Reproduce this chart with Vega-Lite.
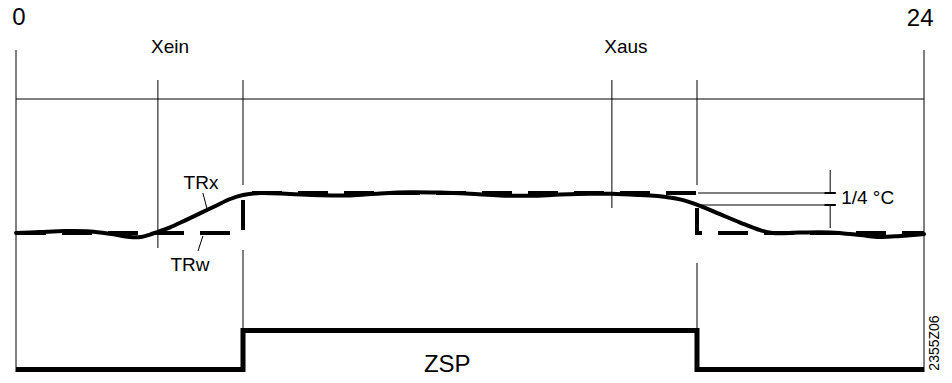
{
  "$schema": "https://vega.github.io/schema/vega-lite/v6.json",
  "width": 908,
  "height": 383,
  "autosize": "none",
  "padding": {"left": 16, "right": 28, "top": 0, "bottom": 0},
  "background": "white",
  "config": {"view": {"stroke": null}},
  "datasets": {
    "trx": [
      {"t": 0, "v": 0}, {"t": 0.63, "v": 0.025}, {"t": 1.3, "v": 0.05}, {"t": 1.96, "v": 0.04},
      {"t": 2.49, "v": -0.02}, {"t": 3.01, "v": -0.1}, {"t": 3.3, "v": -0.1}, {"t": 3.54, "v": -0.04},
      {"t": 3.75, "v": 0.03}, {"t": 4.07, "v": 0.14}, {"t": 4.46, "v": 0.31}, {"t": 4.86, "v": 0.49},
      {"t": 5.26, "v": 0.67}, {"t": 5.66, "v": 0.85}, {"t": 6.0, "v": 0.95}, {"t": 6.45, "v": 1.0},
      {"t": 7.24, "v": 0.975}, {"t": 8.03, "v": 0.945}, {"t": 8.83, "v": 0.94}, {"t": 9.62, "v": 0.99},
      {"t": 10.41, "v": 1.02}, {"t": 11.21, "v": 1.01}, {"t": 12.0, "v": 0.98}, {"t": 12.79, "v": 0.94},
      {"t": 13.59, "v": 0.93}, {"t": 14.38, "v": 0.96}, {"t": 15.17, "v": 0.98}, {"t": 15.75, "v": 0.98},
      {"t": 16.49, "v": 0.95}, {"t": 17.02, "v": 0.92}, {"t": 17.55, "v": 0.84}, {"t": 18.08, "v": 0.68},
      {"t": 18.61, "v": 0.47}, {"t": 19.14, "v": 0.26}, {"t": 19.67, "v": 0.07}, {"t": 20.0, "v": 0.0},
      {"t": 20.72, "v": 0.0125}, {"t": 21.52, "v": 0.0125}, {"t": 22.31, "v": -0.05}, {"t": 22.84, "v": -0.1},
      {"t": 23.37, "v": -0.075}, {"t": 24, "v": -0.025}
    ],
    "trw": [
      {"i": 1, "t": 0, "v": 0}, {"i": 2, "t": 6, "v": 0}, {"i": 3, "t": 6, "v": 1},
      {"i": 4, "t": 18, "v": 1}, {"i": 5, "t": 18, "v": 0}, {"i": 6, "t": 24, "v": 0}
    ],
    "zsp": [
      {"i": 1, "t": 0, "v": -3.41}, {"i": 2, "t": 6, "v": -3.41}, {"i": 3, "t": 6, "v": -2.44},
      {"i": 4, "t": 18, "v": -2.44}, {"i": 5, "t": 18, "v": -3.41}, {"i": 6, "t": 24, "v": -3.41}
    ],
    "thin": [
      {"t": 0, "t2": 0, "v": 4.575, "v2": -3.475},
      {"t": 24, "t2": 24, "v": 4.575, "v2": -3.475},
      {"t": 0, "t2": 24, "v": 3.35, "v2": 3.35},
      {"t": 3.75, "t2": 3.75, "v": 3.825, "v2": -0.375},
      {"t": 15.75, "t2": 15.75, "v": 3.825, "v2": 0.625},
      {"t": 6, "t2": 6, "v": 3.825, "v2": 1.2},
      {"t": 6, "t2": 6, "v": -0.425, "v2": -2.44},
      {"t": 18, "t2": 18, "v": 3.825, "v2": 1.2},
      {"t": 18, "t2": 18, "v": -0.75, "v2": -2.44},
      {"t": 18.03, "t2": 21.52, "v": 1.0, "v2": 1.0},
      {"t": 18.03, "t2": 21.52, "v": 0.7, "v2": 0.7},
      {"t": 21.52, "t2": 21.52, "v": 1.575, "v2": 1.0},
      {"t": 21.52, "t2": 21.52, "v": 0.7, "v2": 0.125},
      {"t": 4.94, "t2": 5.05, "v": 1.0, "v2": 0.6},
      {"t": 4.94, "t2": 4.81, "v": -0.075, "v2": -0.45}
    ],
    "serifs": [
      {"t": 21.37, "t2": 21.67, "v": 1.0, "v2": 1.0},
      {"t": 21.37, "t2": 21.67, "v": 0.7, "v2": 0.7}
    ],
    "labels": [
      {"kind": "big", "t": 0.08, "v": 5.375, "text": "0"},
      {"kind": "big", "t": 23.9, "v": 5.35, "text": "24"},
      {"kind": "mid", "t": 4.07, "v": 4.65, "text": "Xein"},
      {"kind": "mid", "t": 16.12, "v": 4.65, "text": "Xaus"},
      {"kind": "mid", "t": 4.89, "v": 1.25, "text": "TRx"},
      {"kind": "mid", "t": 4.6, "v": -0.8, "text": "TRw"},
      {"kind": "zsp", "t": 11.4, "v": -3.3, "text": "ZSP"}
    ],
    "left": [
      {"t": 21.81, "v": 0.875, "text": "1/4 °C"}
    ],
    "code": [
      {"t": 24.29, "v": -2.75, "text": "2355Z06"}
    ]
  },
  "encoding": {
    "x": {"field": "t", "type": "quantitative", "scale": {"domain": [0, 24], "nice": false, "zero": false}, "axis": null},
    "y": {"field": "v", "type": "quantitative", "scale": {"domain": [-3.75, 5.825], "nice": false, "zero": false}, "axis": null}
  },
  "layer": [
    {
      "data": {"name": "thin"},
      "mark": {"type": "rule", "color": "black", "strokeWidth": 1},
      "encoding": {"x2": {"field": "t2"}, "y2": {"field": "v2"}}
    },
    {
      "data": {"name": "serifs"},
      "mark": {"type": "rule", "color": "black", "strokeWidth": 2},
      "encoding": {"x2": {"field": "t2"}, "y2": {"field": "v2"}}
    },
    {
      "data": {"name": "trw"},
      "mark": {"type": "line", "color": "black", "strokeWidth": 4, "strokeDash": [30, 16], "strokeCap": "butt", "strokeJoin": "miter"},
      "encoding": {"order": {"field": "i", "type": "quantitative"}}
    },
    {
      "data": {"name": "trx"},
      "mark": {"type": "line", "color": "black", "strokeWidth": 4, "interpolate": "catmull-rom", "strokeCap": "round"},
      "encoding": {}
    },
    {
      "data": {"name": "zsp"},
      "mark": {"type": "line", "color": "black", "strokeWidth": 5, "strokeCap": "butt", "strokeJoin": "miter"},
      "encoding": {"order": {"field": "i", "type": "quantitative"}}
    },
    {
      "data": {"name": "labels"},
      "transform": [{"filter": "datum.kind === 'big'"}],
      "mark": {"type": "text", "font": "Liberation Sans", "fontSize": 24, "color": "black", "align": "center", "baseline": "middle"},
      "encoding": {"text": {"field": "text"}}
    },
    {
      "data": {"name": "labels"},
      "transform": [{"filter": "datum.kind === 'mid'"}],
      "mark": {"type": "text", "font": "Liberation Sans", "fontSize": 19, "color": "black", "align": "center", "baseline": "middle"},
      "encoding": {"text": {"field": "text"}}
    },
    {
      "data": {"name": "labels"},
      "transform": [{"filter": "datum.kind === 'zsp'"}],
      "mark": {"type": "text", "font": "Liberation Sans", "fontSize": 24, "color": "black", "align": "center", "baseline": "middle"},
      "encoding": {"text": {"field": "text"}}
    },
    {
      "data": {"name": "left"},
      "mark": {"type": "text", "font": "Liberation Sans", "fontSize": 19, "color": "black", "align": "left", "baseline": "middle"},
      "encoding": {"text": {"field": "text"}}
    },
    {
      "data": {"name": "code"},
      "mark": {"type": "text", "font": "Liberation Sans", "fontSize": 14, "color": "black", "align": "center", "baseline": "middle", "angle": 270},
      "encoding": {"text": {"field": "text"}}
    }
  ]
}
